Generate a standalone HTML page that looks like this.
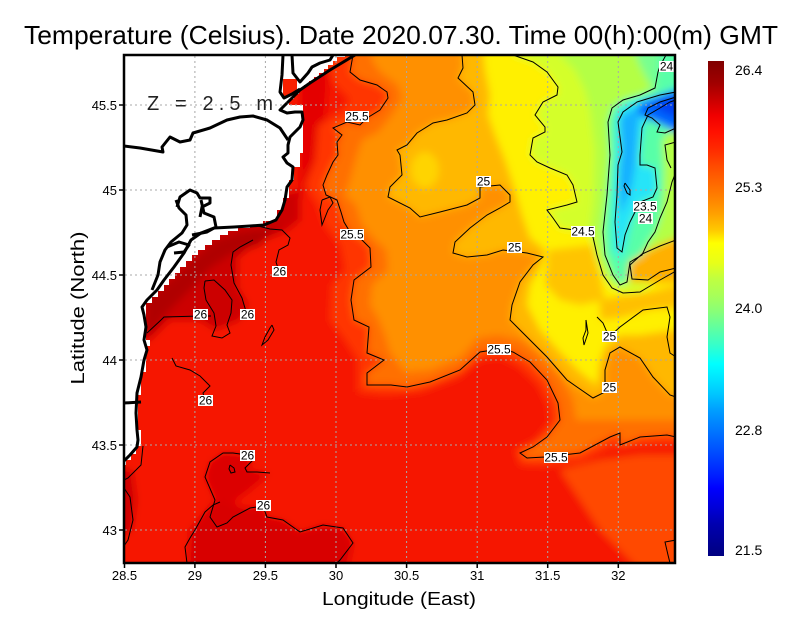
<!DOCTYPE html>
<html><head><meta charset="utf-8"><style>
html,body{margin:0;padding:0;background:#fff;}
svg{display:block;font-family:"Liberation Sans",sans-serif;}
</style></head><body>
<svg width="800" height="618" viewBox="0 0 800 618" xmlns="http://www.w3.org/2000/svg">
<defs>
<clipPath id="plot"><rect x="124" y="55" width="551" height="508"/></clipPath>
<filter id="bl" filterUnits="userSpaceOnUse" x="0" y="0" width="800" height="618"><feGaussianBlur stdDeviation="4"/></filter>
<linearGradient id="cb" x1="0" y1="0" x2="0" y2="1">
<stop offset="0" stop-color="#800000"/><stop offset="0.044" stop-color="#a00000"/><stop offset="0.077" stop-color="#c80000"/><stop offset="0.110" stop-color="#f00000"/><stop offset="0.143" stop-color="#ff1000"/><stop offset="0.176" stop-color="#ff2800"/><stop offset="0.209" stop-color="#ff4800"/><stop offset="0.242" stop-color="#ff6400"/><stop offset="0.275" stop-color="#ff8000"/><stop offset="0.308" stop-color="#ffa000"/><stop offset="0.341" stop-color="#ffc800"/><stop offset="0.368" stop-color="#ffff00"/><stop offset="0.407" stop-color="#e8ff18"/><stop offset="0.440" stop-color="#c0ff40"/><stop offset="0.473" stop-color="#a8ff58"/><stop offset="0.506" stop-color="#88ff78"/><stop offset="0.539" stop-color="#60ffa0"/><stop offset="0.572" stop-color="#38ffc8"/><stop offset="0.612" stop-color="#00ffff"/><stop offset="0.638" stop-color="#00e8ff"/><stop offset="0.671" stop-color="#00c8ff"/><stop offset="0.704" stop-color="#00a0ff"/><stop offset="0.737" stop-color="#0080ff"/><stop offset="0.770" stop-color="#0060ff"/><stop offset="0.803" stop-color="#0040ff"/><stop offset="0.836" stop-color="#0020ff"/><stop offset="0.863" stop-color="#0000ff"/><stop offset="0.902" stop-color="#0000d8"/><stop offset="0.935" stop-color="#0000b0"/><stop offset="1" stop-color="#000080"/>
</linearGradient>
</defs>

<text x="24" y="44" font-size="26" textLength="754" lengthAdjust="spacingAndGlyphs">Temperature (Celsius). Date 2020.07.30. Time 00(h):00(m) GMT</text>

<g clip-path="url(#plot)">
<g filter="url(#bl)">
<rect x="100" y="30" width="620" height="560" fill="#f61200"/>
<polygon fill="#cc0000" points="124,230 300,190 300,220 285,232 255,243 238,258 238,288 248,305 240,320 215,330 200,320 170,320 150,340 124,345"/>
<polygon fill="#b00000" points="146,300 165,285 190,262 215,240 240,232 270,228 282,222 260,245 230,255 210,268 195,285 180,300 165,315 150,335 146,330"/>
<polygon fill="#d80000" points="187,580 190,530 207,510 215,500 223,500 247,508 263,506 267,517 283,520 300,532 323,525 343,528 353,543 345,580"/>
<polygon fill="#dc0000" points="223,453 247,455 253,460 245,468 257,472 270,473 250,490 230,505 215,500 205,477 210,462"/>
<polygon fill="#cc0000" points="100,465 132,470 136,500 132,530 100,545"/>
<polygon fill="#e40000" points="300,60 330,60 325,120 315,160 300,200"/>
<polygon fill="#ff3400" points="330,40 328,70 335,85 350,100 340,112 318,125 315,160 305,185 318,205 325,225 340,245 345,270 332,285 330,320 345,340 358,360 358,392 385,395 420,392 458,378 480,360 500,357 518,366 538,385 548,405 550,422 535,440 515,450 520,465 545,466 580,462 610,448 640,446 667,444 700,446 700,40"/>
<polygon fill="#ff4800" points="560,470 600,460 640,455 676,455 700,455 700,580 676,580 640,570 600,530 580,500"/>
<polygon fill="#ff7000" points="353,40 353,55 350,72 360,80 377,85 387,92 388,98 380,110 367,118 360,125 347,122 333,128 342,135 337,142 338,155 333,162 327,175 323,185 326,195 337,200 341,212 344,222 350,232 362,240 370,248 371,267 354,280 351,300 354,320 369,327 367,353 384,360 367,373 367,385 391,385 407,387 430,382 460,370 480,352 499,349 513,352 530,362 547,380 558,403 560,420 547,437 533,447 520,453 527,458 545,457 580,453 610,437 620,433 620,445 640,437 667,435 700,437 700,40"/>
<polygon fill="#ff9000" points="372,40 372,60 380,72 398,85 402,98 392,115 378,132 362,140 356,158 350,180 345,195 356,205 362,225 375,240 386,250 388,270 372,285 370,305 378,318 385,335 390,352 405,372 430,370 460,358 478,338 498,335 520,340 540,355 560,375 573,400 576,420 600,420 620,420 676,420 700,420 700,40"/>
<polygon fill="#ffb800" points="462,40 462,55 463,68 458,78 473,92 475,105 467,113 447,120 433,123 417,133 407,145 397,150 400,155 402,175 390,187 388,197 410,208 420,217 440,212 467,205 480,198 480,187 500,185 510,195 510,202 500,208 487,215 470,228 455,242 453,253 467,257 487,255 503,250 527,253 543,257 533,265 520,282 512,305 510,320 523,333 547,357 567,380 577,387 593,398 605,392 605,370 610,353 620,347 640,358 653,377 670,395 700,397 700,40"/>
<ellipse cx="425" cy="170" rx="14" ry="18" fill="#ffd400"/>
<polygon fill="#fff000" points="482,40 485,70 490,95 488,115 495,135 505,160 515,190 522,215 530,238 545,250 540,268 530,285 527,305 540,330 560,352 580,372 597,385 600,360 606,345 620,335 640,335 660,332 676,330 700,330 700,40"/>
<polygon fill="#ffc400" points="548,250 592,245 600,275 605,300 580,305 560,300 545,285"/>
<polygon fill="#ffc000" points="600,300 620,296 650,292 676,285 700,285 700,312 676,308 650,310 620,318 600,320"/>
<polygon fill="#d4ff2c" points="513,40 513,55 533,62 547,72 558,87 557,95 543,102 535,115 545,127 545,132 533,138 530,155 537,162 550,168 567,175 573,185 577,202 567,205 547,210 553,218 560,228 582,231 593,237 597,255 603,275 612,288 623,293 640,292 660,280 673,273 700,270 700,40"/>
<polygon fill="#b4ff44" points="560,40 560,55 575,70 585,90 590,110 595,150 594,200 590,230 598,260 610,285 625,285 640,265 676,240 700,240 700,40"/>
<polygon fill="#78ff90" points="630,40 640,65 650,85 676,90 700,90 700,40"/>
<polygon fill="#ffb000" points="628,262 640,254 660,245 676,238 700,238 700,282 676,282 660,283 645,282 630,282"/>
<polygon fill="#58ffa8" points="658,40 658,72 655,88 640,95 623,100 612,108 608,122 610,155 607,195 603,232 605,255 613,275 620,285 627,282 630,262 642,255 648,242 655,232 660,218 663,200 664,170 662,140 676,125 700,125 700,40"/>
<polygon fill="#40f4d8" points="616,110 630,100 650,96 640,150 636,200 628,240 622,262 612,250 612,200 614,150"/>
<polygon fill="#28e4f8" points="618,122 622,152 618,165 617,195 615,222 617,248 622,252 625,235 630,222 640,202 653,197 657,188 655,168 640,165 640,155 642,128 648,115 660,108 676,100 700,100 700,88 676,88 650,98 630,105 620,112"/>
<polygon fill="#18b0ff" points="620,118 628,112 640,108 638,130 636,160 632,185 625,205 620,215 619,180 621,150"/>
<polygon fill="#0068ff" points="640,103 655,97 676,90 700,90 700,135 676,133 668,128 655,122 645,118 636,112"/>
<polygon fill="#0040f0" points="652,104 676,96 700,96 700,120 676,118 662,112"/>
</g>
</g>

<polygon fill="#fff" points="124,55 345,55 345,57 337,57 337,61 333,61 333,65 328,65 328,69 324,69 324,73 319,73 319,77 314,77 314,81 309,81 309,85 304,85 304,89 299,89 299,94 294,94 294,99 289,99 289,105 303,105 303,153 300,153 300,167 294,167 294,180 289,180 289,198 283,198 283,210 277,210 277,221 263,221 263,225 250,225 250,228 238,228 238,231 228,231 228,235 220,235 220,240 212,240 212,245 205,245 205,250 198,250 198,255 192,255 192,261 186,261 186,267 180,267 180,273 175,273 175,279 169,279 169,285 164,285 164,291 158,291 158,297 152,297 152,303 146,303 146,340 150,340 150,346 146,346 146,372 141,372 141,395 138,395 138,430 141,430 141,446 136,446 136,454 131,454 131,460 126,460 126,465 124,465"/>
<polygon fill="#f82000" points="283,79 297,79 297,89 292,94 286,97 283,97"/>

<g stroke="#a8a8a8" stroke-width="1" stroke-dasharray="2,3" fill="none">
<line x1="194.9" y1="56" x2="194.9" y2="562"/><line x1="265.4" y1="56" x2="265.4" y2="562"/><line x1="336" y1="56" x2="336" y2="562"/><line x1="406.6" y1="56" x2="406.6" y2="562"/><line x1="477.2" y1="56" x2="477.2" y2="562"/><line x1="547.7" y1="56" x2="547.7" y2="562"/><line x1="618.3" y1="56" x2="618.3" y2="562"/>
<line x1="125" y1="105" x2="674" y2="105"/><line x1="125" y1="190" x2="674" y2="190"/><line x1="125" y1="275" x2="674" y2="275"/><line x1="125" y1="360" x2="674" y2="360"/><line x1="125" y1="445" x2="674" y2="445"/><line x1="125" y1="530" x2="674" y2="530"/>
</g>

<g clip-path="url(#plot)" stroke="#000" stroke-width="1" fill="none">
<polyline points="353,55 350,72 360,80 377,85 387,92 388,98 380,110 367,118 360,125 347,122 333,128 342,135 337,142 338,155 333,162 327,175 323,185 326,195 337,200 341,212 344,222 350,232 362,240 370,248 371,267 354,280 351,300 354,320 369,327 367,353 384,360 367,373 367,385 391,385 407,387 430,382 460,370 480,352 499,349 513,352 530,362 547,380 558,403 560,420 547,437 533,447 520,453 527,458 545,457 580,453 610,437 620,433 620,445 640,437 667,435 676,437"/>
<polyline points="322,200 330,197 333,203 328,210 322,225 320,210 322,200"/>
<polyline points="462,55 463,68 458,78 473,92 475,105 467,113 447,120 433,123 417,133 407,145 397,150 400,155 402,175 390,187 388,197 410,208 420,217 440,212 467,205 480,198 480,187 500,185 510,195 510,202 500,208 487,215 470,228 455,242 453,253 467,257 487,255 503,250 527,253 543,257 533,265 520,282 512,305 510,320 523,333 547,357 567,380 577,387 593,398 605,392 605,370 610,353 620,347 640,358 653,377 670,395 676,397"/>
<polyline points="597,317 603,323 609,337 620,327 643,310 667,307 670,317 667,337 670,353 676,357"/>
<polyline points="676,240 660,246 642,254 630,265 632,279 648,280 660,272 676,268"/>
<polyline points="513,55 533,62 547,72 558,87 557,95 543,102 535,115 545,127 545,132 533,138 530,155 537,162 550,168 567,175 573,185 577,202 567,205 547,210 553,218 560,228 582,231 593,237 597,255 603,275 612,288 623,293 640,292 660,280 676,271"/>
<polyline points="666,55 660,66 658,72 655,88 640,95 623,100 612,108 608,122 610,155 607,195 603,232 605,255 613,275 620,285 627,282 630,262 642,255 648,242 655,232 660,218 667,202 672,182 676,172"/>
<polyline points="676,92 660,95 650,98 637,102 623,112 618,122 622,152 618,165 617,195 615,222 617,248 622,252 625,235 630,222 640,202 653,197 657,188 655,168 647,165 640,165 640,155 642,128 648,115 660,108 670,102 676,100"/>
<polyline points="676,97 660,102 648,108 645,115 652,118 660,125 657,132 665,133 676,128"/>
<polyline points="625,183 630,190 630,195 627,193 624,186 625,183"/>
<polyline points="676,142 665,145 667,160 671,168"/>
<polyline points="586,320 588,333 584,345 583,338 586,330 586,320"/>
<polyline points="676,540 665,542 668,555 670,563"/>
<polyline points="258,226 270,229 282,230 290,238 288,245 279,250 276,262 279,271"/>
<polyline points="253,240 240,247 233,252 231,265 234,283 242,298 247,315"/>
<polyline points="205,281 214,280 225,290 232,300 231,313 227,325 230,333 222,338 212,336 216,326 214,313 206,300 204,288 205,281"/>
<polyline points="147,333 161,320 164,317 200,316 211,316"/>
<polyline points="272,325 274,330 268,340 262,345 265,337 270,328 272,325"/>
<polyline points="270,473 257,472 247,472 245,468 253,460 247,455 233,453 223,453 210,462 205,477 215,500 210,517 217,527 227,523 233,517 250,508 263,506 267,517 283,520 300,532 323,525 343,528 353,543 340,560 337,563"/>
<polyline points="187,563 185,547 190,538 195,530 205,512 213,505 220,502"/>
<polyline points="230,465 234,468 235,472 231,473 229,469 230,465"/>
<polyline points="172,358 176,366 190,370 200,376 210,386 203,393 205,400"/>
<polyline points="143,446 141,465 128,478 124,480"/>
<polyline points="124,488 130,497 133,520 128,540 124,546"/>
</g>

<g stroke="#000" stroke-width="3" fill="none" stroke-linejoin="round" clip-path="url(#plot)">
<polyline points="283,55 282,75 280,92 284,98 292,94 300,89"/>
<polyline points="292,55 293,73 300,82 308,73 312,67 320,63 330,60 333,55"/>
<polyline points="355,55 330,70 310,83 300,90 287,103"/>
<polyline points="287,103 280,110 287,113 295,112 302,112 303,120 300,127 290,137 288,145 288,153 283,157 287,163 293,167 292,180 287,187 285,200 282,210 276,220 264,225 250,226 234,227 214,228 201,233 191,240 184,253 174,267 164,280 157,290 147,300 142,307 144,315 146,327 144,340 147,350 144,360 141,377 137,393 136,413 137,430 138,440 137,447 130,455 124,461"/>
<polyline points="124,146 140,148 163,152 162,147 170,137 180,142 190,140 193,133 210,128 227,120 240,117 253,116 267,120 280,128 288,140"/>
<polyline points="177,207 180,197 190,190 197,193 200,198 210,198 210,203 202,207 200,217"/>
<polyline points="176,200 179,208 186,215 187,225 182,233 171,242 165,250 160,262 158,275 152,290"/>
<polyline points="201,200 204,213 214,217 216,227 207,232 192,235"/>
<polyline points="167,247 179,242 189,245 184,252 174,253"/>
<polyline points="124,403 141,402"/>
</g>

<g font-size="12" text-anchor="middle">
<rect x="659" y="61" width="15" height="11" fill="#fff"/><text x="666.5" y="70.5">24</text>
<rect x="345" y="111" width="24" height="11" fill="#fff"/><text x="357" y="120.5">25.5</text>
<rect x="476" y="176" width="15" height="11" fill="#fff"/><text x="483.5" y="185.5">25</text>
<rect x="633" y="201" width="24" height="11" fill="#fff"/><text x="645" y="210.5">23.5</text>
<rect x="638" y="213" width="15" height="11" fill="#fff"/><text x="645.5" y="222.5">24</text>
<rect x="571" y="226" width="24" height="11" fill="#fff"/><text x="583" y="235.5">24.5</text>
<rect x="340" y="229" width="24" height="11" fill="#fff"/><text x="352" y="238.5">25.5</text>
<rect x="507" y="242" width="15" height="11" fill="#fff"/><text x="514.5" y="251.5">25</text>
<rect x="272" y="266" width="15" height="11" fill="#fff"/><text x="279.5" y="275.5">26</text>
<rect x="193" y="309" width="15" height="11" fill="#fff"/><text x="200.5" y="318.5">26</text>
<rect x="240" y="309" width="15" height="11" fill="#fff"/><text x="247.5" y="318.5">26</text>
<rect x="602" y="331" width="15" height="11" fill="#fff"/><text x="609.5" y="340.5">25</text>
<rect x="487" y="344" width="24" height="11" fill="#fff"/><text x="499" y="353.5">25.5</text>
<rect x="602" y="382" width="15" height="11" fill="#fff"/><text x="609.5" y="391.5">25</text>
<rect x="198" y="395" width="15" height="11" fill="#fff"/><text x="205.5" y="404.5">26</text>
<rect x="240" y="450" width="15" height="11" fill="#fff"/><text x="247.5" y="459.5">26</text>
<rect x="544" y="452" width="24" height="11" fill="#fff"/><text x="556" y="461.5">25.5</text>
<rect x="256" y="500" width="15" height="11" fill="#fff"/><text x="263.5" y="509.5">26</text>
</g>

<text x="147" y="110" font-size="20" fill="#222" textLength="126" lengthAdjust="spacing">Z = 2.5 m</text>

<rect x="124" y="55" width="551" height="508" fill="none" stroke="#000" stroke-width="2.5"/>
<g stroke="#000" stroke-width="1.5">
<line x1="124.5" y1="563" x2="124.5" y2="568"/><line x1="194.9" y1="563" x2="194.9" y2="568"/><line x1="265.4" y1="563" x2="265.4" y2="568"/><line x1="336" y1="563" x2="336" y2="568"/><line x1="406.6" y1="563" x2="406.6" y2="568"/><line x1="477.2" y1="563" x2="477.2" y2="568"/><line x1="547.7" y1="563" x2="547.7" y2="568"/><line x1="618.3" y1="563" x2="618.3" y2="568"/>
<line x1="119" y1="105" x2="124" y2="105"/><line x1="119" y1="190" x2="124" y2="190"/><line x1="119" y1="275" x2="124" y2="275"/><line x1="119" y1="360" x2="124" y2="360"/><line x1="119" y1="445" x2="124" y2="445"/><line x1="119" y1="530" x2="124" y2="530"/>
</g>

<g font-size="13" text-anchor="middle">
<text x="124.5" y="580">28.5</text><text x="194.9" y="580">29</text><text x="265.4" y="580">29.5</text><text x="336" y="580">30</text><text x="406.6" y="580">30.5</text><text x="477.2" y="580">31</text><text x="547.7" y="580">31.5</text><text x="618.3" y="580">32</text>
</g>
<g font-size="13" text-anchor="end">
<text x="117" y="110">45.5</text><text x="117" y="195">45</text><text x="117" y="280">44.5</text><text x="117" y="365">44</text><text x="117" y="450">43.5</text><text x="117" y="535">43</text>
</g>

<text x="399" y="605" font-size="18" text-anchor="middle" textLength="154" lengthAdjust="spacingAndGlyphs">Longitude (East)</text>
<text transform="translate(84,308) rotate(-90)" font-size="18" text-anchor="middle" textLength="153" lengthAdjust="spacingAndGlyphs">Latitude (North)</text>

<rect x="708" y="61" width="16" height="495" fill="url(#cb)"/>
<g font-size="14">
<text x="735" y="75">26.4</text><text x="735" y="192">25.3</text><text x="735" y="313">24.0</text><text x="735" y="435">22.8</text><text x="735" y="555">21.5</text>
</g>
</svg>
</body></html>
